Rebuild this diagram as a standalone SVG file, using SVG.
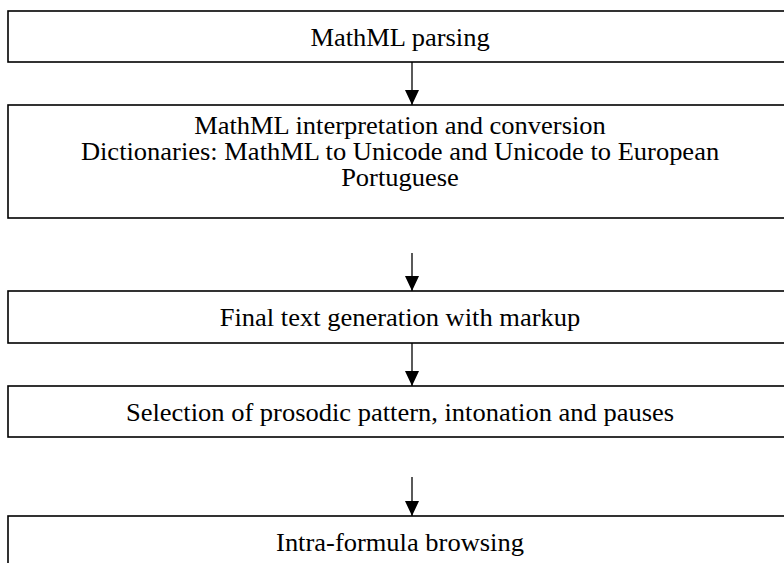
<svg xmlns="http://www.w3.org/2000/svg" width="784" height="563" viewBox="0 0 784 563">
  <style>
    .box { fill: #ffffff; stroke: #000000; stroke-width: 1.6; }
    .label { font-family: "Liberation Serif", "Times New Roman", serif; font-size: 25px; fill: #000000; text-anchor: middle; }
    .link { stroke: #000000; stroke-width: 1.3; fill: none; marker-end: url(#arrow); }
  </style>
  <defs>
    <!-- filled triangular head, drawn pointing along +x so orient="auto" turns it with the line -->
    <marker id="arrow" viewBox="0 0 15 14" refX="15" refY="7" markerWidth="15" markerHeight="14" markerUnits="userSpaceOnUse" orient="auto">
      <path d="M0,0 L15,7 L0,14 Z" fill="#000000"/>
    </marker>
  </defs>
  <rect width="784" height="563" fill="#ffffff"/>

  <!-- labels are set slightly wider than the font's natural width -->
  <g id="node-parsing">
    <rect class="box" x="8" y="11" width="800" height="51"/>
    <text class="label" transform="translate(400,46) scale(1.06,1)">MathML parsing</text>
  </g>

  <g id="node-interpretation">
    <rect class="box" x="8" y="105" width="800" height="113"/>
    <text class="label" transform="translate(400,134) scale(1.06,1)">MathML interpretation and conversion</text>
    <text class="label" transform="translate(400,160) scale(1.06,1)">Dictionaries: MathML to Unicode and Unicode to European</text>
    <text class="label" transform="translate(400,186) scale(1.06,1)">Portuguese</text>
  </g>

  <g id="node-text-generation">
    <rect class="box" x="8" y="291" width="800" height="52"/>
    <text class="label" transform="translate(400,326) scale(1.06,1)">Final text generation with markup</text>
  </g>

  <g id="node-prosody">
    <rect class="box" x="8" y="386" width="800" height="51"/>
    <text class="label" transform="translate(400,421) scale(1.06,1)">Selection of prosodic pattern, intonation and pauses</text>
  </g>

  <g id="node-browsing">
    <rect class="box" x="8" y="516" width="800" height="60"/>
    <text class="label" transform="translate(400,551) scale(1.06,1)">Intra-formula browsing</text>
  </g>

  <g id="connectors">
    <line class="link" x1="412" y1="62" x2="412" y2="105"/>
    <line class="link" x1="412" y1="253" x2="412" y2="291"/>
    <line class="link" x1="412" y1="343" x2="412" y2="386"/>
    <line class="link" x1="412" y1="477" x2="412" y2="516"/>
  </g>
</svg>
